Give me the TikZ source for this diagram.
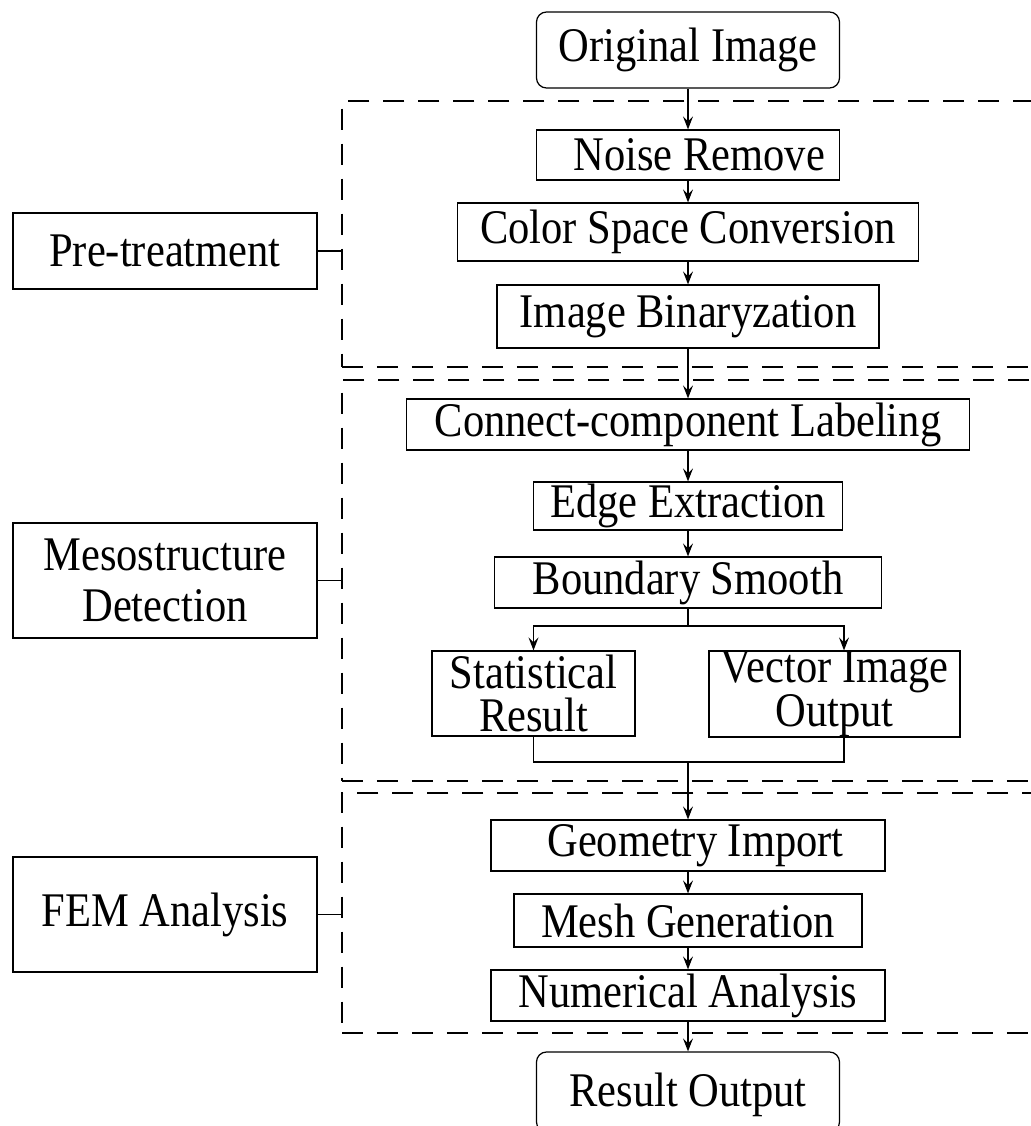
\documentclass[tikz,border=0pt]{standalone}
\usepackage{fontspec}
\setmainfont[FakeStretch=0.88]{Liberation Serif}
\usetikzlibrary{arrows.meta}

\begin{document}
\begin{tikzpicture}[x=0.02cm,y=-0.02cm,line width=0.7pt,
  every node/.style={font=\fontsize{27.5}{29}\selectfont,inner sep=0pt,align=center},
  blk/.style 2 args={draw,minimum width=#1*0.02cm,minimum height=#2*0.02cm},
  endblk/.style 2 args={blk={#1}{#2},rounded corners=0.2cm},
  grp/.style 2 args={draw,dash pattern=on 0.42cm off 0.28cm,minimum width=#1*0.02cm,minimum height=#2*0.02cm},
  arr/.style={-{Stealth[length=0.26cm,width=0.2cm,inset=0.1cm]}}]
 \useasboundingbox (0,0) rectangle (1031,1126);
 \node[grp={703}{266}] (groupA) at (693.5,234) {};
 \node[grp={703}{401}] (groupB) at (693.5,580.5) {};
 \node[grp={703}{240}] (groupC) at (693.5,913) {};
 \node[endblk={303}{76}] (orig) at (688,50) {Original Image};
 \node[blk={303}{50}] (noise) at (688,155) {\hspace*{0.45cm}Noise Remove};
 \node[blk={461}{58}] (color) at (688,232) {Color Space Conversion};
 \node[blk={382}{63}] (binar) at (688,316.5) {Image Binaryzation};
 \node[blk={563}{51}] (label) at (688,424.5) {Connect-component Labeling};
 \node[blk={309}{48}] (edge) at (688,506) {Edge Extraction};
 \node[blk={387}{51}] (smooth) at (688,582.5) {Boundary Smooth};
 \node[blk={203}{85},font=\fontsize{27.5}{25}\selectfont] (stat) at (533.5,693.5) {Statistical\\Result};
 \node[blk={251}{86},font=\fontsize{27.5}{25}\selectfont] (vector) at (834.5,694) {Vector Image\\Output};
 \node[blk={394}{51}] (geom) at (688,845.5) {\hspace*{0.3cm}Geometry Import};
 \node[blk={348}{53}] (mesh) at (688,920.5) {Mesh Generation};
 \node[blk={394}{51}] (numer) at (688,995.5) {Numerical Analysis};
 \node[endblk={303}{80},text depth=0.1cm] (result) at (688,1092) {Result Output};
 \node[blk={304}{76}] (pre) at (165,251) {Pre-treatment};
 \node[blk={304}{115}] (meso) at (165,580.5) {Mesostructure\\Detection};
 \node[blk={304}{115}] (fem) at (165,914.5) {FEM Analysis};
 \coordinate (split) at (688,626);
 \coordinate (merge) at (688,762);
 \path[arr]
  (orig) edge (noise)
  (noise) edge (color)
  (color) edge (binar)
  (binar) edge (label)
  (label) edge (edge)
  (edge) edge (smooth)
  (geom) edge (mesh)
  (mesh) edge (numer)
  (numer) edge (result);
 \draw (smooth) -- (split);
 \draw[arr] (split) -| (stat);
 \draw[arr] (split) -| ([xshift=0.19cm]vector.north);
 \draw (stat) |- (merge);
 \draw ([xshift=0.19cm]vector.south) |- (merge);
 \draw[arr] (merge) -- (geom);
 \draw (pre) -- (pre -| groupA.west);
 \draw (meso) -- (meso -| groupB.west);
 \draw (fem) -- (fem -| groupC.west);
\end{tikzpicture}
\end{document}
